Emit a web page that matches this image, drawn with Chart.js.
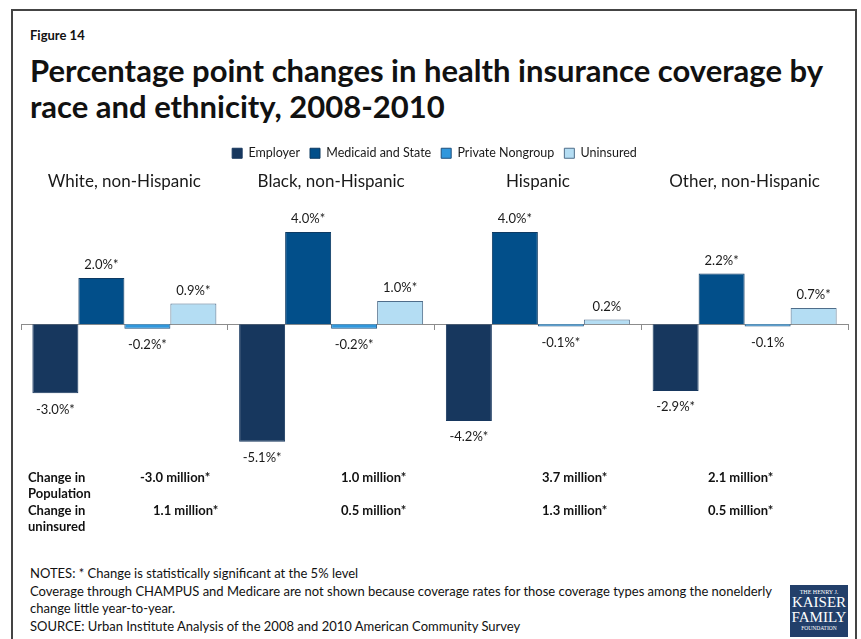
<!DOCTYPE html>
<html>
<head>
    <title>Percentage point changes in health insurance coverage by race and ethnicity</title>
    <script src="https://cdn.jsdelivr.net/npm/chart.js"></script>
    <style>
        body { margin: 0; width: 861px; height: 639px; background: #fff; font-family: Lato, 'Open Sans', sans-serif; color: #111; position: relative; overflow: hidden; }
        .frame { position: absolute; left: 11px; top: 9px; right: 4px; bottom: -10px; border: 2px solid #444; }
        .fig { position: absolute; left: 30px; top: 27px; font-size: 13px; font-weight: bold; }
        .title { position: absolute; left: 30px; top: 52px; font-size: 31px; font-weight: bold; line-height: 36px; }
        #wrap { position: absolute; left: 0; top: 136px; width: 861px; height: 340px; }
        .row { position: absolute; font-size: 13px; font-weight: bold; line-height: 16px; }
        .notes { position: absolute; left: 30px; top: 565px; font-size: 13px; line-height: 17.5px; }
        .logo { position: absolute; left: 790px; top: 585px; width: 58px; height: 52px; background: #223f6a; color: #fff; font-family: 'Liberation Serif', serif; text-align: center; line-height: 1; }
    </style>
</head>
<body>
    <div class="frame"></div>
    <div class="fig">Figure 14</div>
    <div class="title">Percentage point changes in health insurance coverage by<br>race and ethnicity, 2008-2010</div>
    <div id="wrap"><canvas id="coverageChart"></canvas></div>
    <div id="table"></div>
    <div class="notes">
        NOTES: * Change is statistically significant at the 5% level<br>
        Coverage through CHAMPUS and Medicare are not shown because coverage rates for those coverage types among the nonelderly<br>
        change little year-to-year.<br>
        SOURCE: Urban Institute Analysis of the 2008 and 2010 American Community Survey
    </div>
    <div class="logo">
        <div style="font-size:6px;padding-top:4px;">THE HENRY J.</div>
        <div style="font-size:15px;">KAISER</div>
        <div style="font-size:15px;">FAMILY</div>
        <div style="font-size:5.5px;padding-top:1px;">FOUNDATION</div>
    </div>
    <script>
        const groups = ['White, non-Hispanic', 'Black, non-Hispanic', 'Hispanic', 'Other, non-Hispanic'];
        const employer = [-3.0, -5.1, -4.2, -2.9];
        const medicaid = [2.0, 4.0, 4.0, 2.2];
        const nongroup = [-0.2, -0.2, -0.1, -0.1];
        const uninsured = [0.9, 1.0, 0.2, 0.7];
        // which changes are significant at 5% (gets a * in the label)
        const sigEmployer = [true, true, true, true];
        const sigMedicaid = [true, true, true, true];
        const sigNongroup = [true, true, true, false];
        const sigUninsured = [true, true, false, true];

        const popChange = ['-3.0 million*', '1.0 million*', '3.7 million*', '2.1  million*'];
        const uninsuredChange = ['1.1 million*', '0.5 million*', '1.3 million*', '0.5 million*'];

        // table under the chart
        const table = document.getElementById('table');
        const colX1 = [140, 341, 542, 708];
        const colX2 = [153, 341, 542, 708];
        function addText(txt, x, y) {
            const d = document.createElement('div');
            d.className = 'row';
            d.style.left = x + 'px';
            d.style.top = y + 'px';
            d.innerHTML = txt;
            table.appendChild(d);
        }
        addText('Change in<br>Population', 28, 469);
        addText('Change in<br>uninsured', 28, 502);
        popChange.forEach((t, i) => addText(t, colX1[i], 469));
        uninsuredChange.forEach((t, i) => addText(t, colX2[i], 502));

        const valueLabels = {
            id: 'valueLabels',
            afterDatasetsDraw(chart) {
                const c = chart.ctx;
                c.save();
                c.font = '13px Lato';
                c.fillStyle = '#1a1a1a';
                c.textAlign = 'center';
                c.textBaseline = 'middle';
                chart.data.datasets.forEach((ds, di) => {
                    const meta = chart.getDatasetMeta(di);
                    meta.data.forEach((bar, i) => {
                        const v = ds.data[i];
                        const txt = v.toFixed(1) + '%' + (ds.sig[i] ? '*' : '');
                        const y = v >= 0 ? bar.y - 13 : bar.y + 16;
                        c.fillText(txt, bar.x, y);
                    });
                });
                c.restore();
            }
        };

        const ctx = document.getElementById('coverageChart').getContext('2d');
        const coverageChart = new Chart(ctx, {
            type: 'bar',
            data: {
                labels: groups,
                datasets: [
                    { label: 'Employer', data: employer, sig: sigEmployer, backgroundColor: '#17375E', borderColor: '#17375E', borderWidth: 1 },
                    { label: 'Medicaid and State', data: medicaid, sig: sigMedicaid, backgroundColor: '#024F8A', borderColor: '#0d3a63', borderWidth: 1 },
                    { label: 'Private Nongroup', data: nongroup, sig: sigNongroup, backgroundColor: '#3097DC', borderColor: '#1d4f7c', borderWidth: 1 },
                    { label: 'Uninsured', data: uninsured, sig: sigUninsured, backgroundColor: '#B4DDF3', borderColor: '#4f6d8a', borderWidth: 1 }
                ]
            },
            options: {
                responsive: true,
                maintainAspectRatio: false,
                animation: false,
                categoryPercentage: 0.89,
                barPercentage: 1.0,
                layout: { padding: { left: 21, right: 13, top: 1, bottom: 25 } },
                plugins: {
                    legend: {
                        position: 'top',
                        labels: { boxWidth: 10, boxHeight: 10, padding: 10, color: '#1a1a1a', font: { family: 'Lato', size: 12.5 } }
                    },
                    tooltip: { enabled: false }
                },
                scales: {
                    x: {
                        position: { y: 0 },
                        offset: true,
                        grid: { display: true, drawOnChartArea: false, drawTicks: true, tickLength: 5, offset: true, color: '#8c8c8c' },
                        border: { display: true, color: '#8c8c8c' },
                        ticks: { display: false }
                    },
                    x2: {
                        type: 'category',
                        labels: groups,
                        position: 'top',
                        offset: true,
                        grid: { display: false },
                        border: { display: false },
                        ticks: { color: '#1a1a1a', padding: 2, font: { family: 'Lato', size: 17 } }
                    },
                    y: {
                        display: false,
                        min: -5.5,
                        max: 5.3
                    }
                }
            },
            plugins: [valueLabels]
        });
    </script>
</body>
</html>
